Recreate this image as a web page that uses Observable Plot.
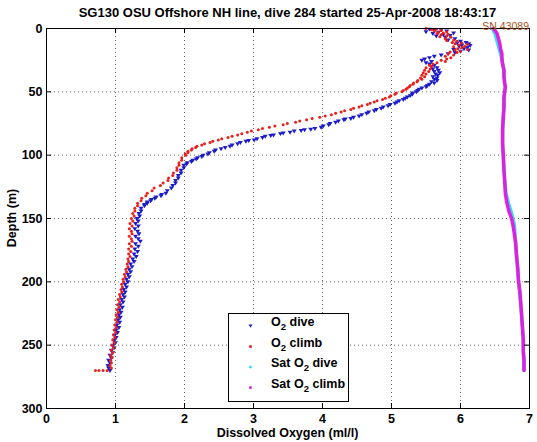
<!DOCTYPE html>
<html><head><meta charset="utf-8">
<script src="https://cdn.jsdelivr.net/npm/d3@7"></script>
<script src="https://cdn.jsdelivr.net/npm/@observablehq/plot@0.6"></script>
<style>body{margin:0;background:#fff} #chart svg{display:block}</style>
</head><body><div id="chart"></div>
<script>
const xTicks = [0,1,2,3,4,5,6,7];
const yTicks = [0,50,100,150,200,250,300];
const titleText = "SG130 OSU Offshore NH line, dive 284 started 25-Apr-2008 18:43:17";
const xLabel = "Dissolved Oxygen (ml/l)";
const yLabel = "Depth (m)";
const serialLabel = "SN 43089";
const legendNames = [["O","2"," dive"],["O","2"," climb"],["Sat O","2"," dive"],["Sat O","2"," climb"]];

// [depth (m), O2 (ml/l)]
const diveO2 = [[0.5,5.55],[1,5.72],[1.5,5.62],[2,5.8],[2.5,5.5],[3,5.68],[3.5,5.9],[4,5.6],[5,5.75],[5.5,5.85],[6,5.65],[7,5.78],[8,5.92],[9,5.82],[10,6.0],
[11,6.08],[11.5,5.95],[12,6.12],[13,6.02],[13.5,6.14],[14,5.98],[15,6.1],[16,6.05],[16.5,5.9],[17,6.12],[18,6.0],[19,5.92],[20,5.82],
[21,5.72],[22,5.62],[23,5.55],[24,5.48],[25,5.44],[26,5.58],[27,5.5],[28,5.55],[29,5.62],
[30,5.58],[31,5.66],[32,5.6],[33,5.68],[34,5.62],[35,5.7],[36,5.64],[37,5.67],[38,5.6],[39,5.66],[40,5.62],[41,5.66],[42,5.58],[43,5.62],[44,5.55],[45,5.52],[46,5.5],[47,5.44],
[48,5.4],[49,5.38],[50,5.36],[51,5.31],[52,5.3],[53,5.27],[54,5.23],[55,5.2],[56,5.17],[57,5.11],[58,5.08],[59,5.05],[60,4.98],
[61,4.95],[62,4.88],[63,4.85],[64,4.78],[65,4.75],[66,4.67],[67,4.64],[68,4.57],[69,4.53],[70,4.45],[71,4.41],[71.5,4.33],[72,4.31],[73,4.23],[74,4.19],[75,4.11],[76,4.09],[77,4.01],[78,3.98],[79,3.89],[79.5,3.83],[80,3.74],[80.5,3.69],[81,3.59],[82,3.53],[82.5,3.43],[83,3.39],[84,3.29],[84.5,3.25],[85,3.17],[86,3.13],[87,3.05],[88,3.01],[88.5,2.93],[89,2.89],[90,2.81],[91,2.77],[92,2.69],[93,2.66],[94,2.59],[95,2.53],[96,2.45],[97,2.43],[98,2.36],[99,2.34],[100,2.27],[101,2.25],[102,2.19],[103,2.17],[104,2.12],[105,2.1],[106,2.04],[107,2.03],[108,1.99],
[110,1.99],[112,1.95],[114,1.95],[116,1.91],[118,1.91],[120,1.87],[122,1.87],[124,1.83],[126,1.81],[128,1.75],[130,1.73],[131,1.67],[132,1.66],[133,1.59],[134,1.57],[135,1.52],[136,1.51],[137,1.46],[138,1.46],[139,1.42],[140,1.42],[142,1.37],[144,1.37],[146,1.34],[148,1.35],[150,1.31],[152,1.33],[154,1.29],[156,1.33],[158,1.28],[160,1.32],[162,1.34],[164,1.29],[166,1.33],[168,1.36],[170,1.29],[172,1.33],[174,1.28],[176,1.32],[178,1.27],[180,1.3],[182,1.25],[184,1.27],[186,1.22],[188,1.24],[190,1.2],[192,1.22],[194,1.18],[196,1.2],[198,1.16],[200,1.18],[202,1.14],[204,1.16],[206,1.12],[208,1.14],[210,1.11],[212,1.13],[214,1.09],[216,1.11],[218,1.07],[220,1.1],[222,1.06],[224,1.08],[226,1.05],[228,1.07],[230,1.04],[232,1.06],[234,1.02],[236,1.05],[238,1.01],[240,1.03],[242,0.99],[244,1.01],[246,0.98],[248,1.0],[250,0.96],[252,0.98],[254,0.94],[256,0.96],[258,0.92],[260,0.94],[262,0.9],[264,0.92],[266,0.89],[268,0.9],[270,0.92]];

const climbO2 = [[0,5.5],[0.5,5.65],[1,5.58],[1.5,5.72],[2,5.62],[2.5,5.8],[3,5.68],[3.5,5.75],[4,5.66],[4.5,5.82],[5,5.72],[6,5.8],[6.5,5.7],[7,5.86],[8,5.78],[9,5.9],[9.5,5.8],[10,5.95],
[11,5.88],[11.5,6.02],[12,5.92],[12.5,6.1],[13,5.98],[14,6.06],[14.5,5.9],[15,6.02],[16,5.96],[16.5,6.1],[17,5.92],[18,6.0],[18.5,5.85],[19,5.95],[20,5.82],[21,5.9],[22,5.78],[23,5.86],[24,5.8],[25,5.72],[26,5.78],[27,5.66],[28,5.6],
[29,5.55],[30,5.58],[31,5.5],[32,5.56],[33,5.48],[34,5.54],[35,5.46],[36,5.5],[37,5.44],[38,5.48],[39,5.42],[40,5.44],[41,5.38],[42,5.37],[43,5.32],[44,5.31],[45,5.27],[46,5.26],[47,5.23],[48,5.21],[49,5.17],[50,5.15],[51,5.07],[52,5.05],[53,4.99],[54,4.97],[55,4.91],[56,4.87],[57,4.79],[58,4.75],[59,4.69],[60,4.65],[61,4.57],[62,4.53],[63,4.45],[64,4.41],[65,4.32],[66,4.27],[67,4.19],[68,4.13],[69,4.04],[70,3.96],[71,3.85],[72,3.77],[73,3.67],[74,3.61],[75,3.49],[76,3.43],[77,3.31],[78,3.23],[79,3.13],[80,3.07],[81,2.97],[82,2.91],[83,2.83],[84,2.77],[85,2.69],[86,2.63],[87,2.54],[88,2.49],[89,2.41],[90,2.37],[91,2.29],[92,2.25],[93,2.18],[94,2.16],[95,2.11],[96,2.1],[97,2.05],[98,2.05],[99,2.01],[100,2.02],
[102,1.96],[104,1.96],[106,1.92],[108,1.92],[110,1.89],[112,1.89],[114,1.84],[116,1.83],[118,1.77],[120,1.76],[122,1.69],[124,1.65],[126,1.56],[128,1.53],[130,1.46],[132,1.44],[134,1.38],[136,1.37],[138,1.32],[140,1.32],[142,1.28],[144,1.28],[146,1.25],[148,1.27],[150,1.23],[152,1.25],[154,1.21],[156,1.24],[158,1.2],[160,1.23],[162,1.24],[164,1.2],[166,1.23],[168,1.24],[170,1.2],[172,1.23],[174,1.19],[176,1.22],[178,1.19],[180,1.21],[182,1.18],[184,1.19],[186,1.17],[188,1.18],[190,1.15],[192,1.16],[194,1.13],[196,1.14],[198,1.11],[200,1.12],[202,1.09],[204,1.1],[206,1.08],[208,1.09],[210,1.06],[212,1.07],[214,1.04],[216,1.06],[218,1.03],[220,1.05],[222,1.02],[224,1.04],[226,1.01],[228,1.03],[230,1.0],[232,1.02],[234,0.99],[236,1.01],[238,0.98],[240,1.0],[242,0.97],[244,0.99],[246,0.96],[248,0.98],[250,0.95],[252,0.97],[254,0.94],[256,0.96],[258,0.93],[260,0.95],[262,0.93],[264,0.94],[266,0.92],[268,0.94],[270,0.88],[270,0.82],[270,0.76],[270,0.71]];

const satDive = [[0,6.46],[4,6.5],[8,6.52],[12,6.54],[16,6.56],[20,6.58],[24,6.6],[28,6.61],[33,6.63],[38,6.63],[43,6.64],[46,6.65],[50,6.64],[55,6.63],[62,6.63],[70,6.62],[80,6.61],[91,6.61],[100,6.62],[112,6.63],[120,6.64],[130,6.66],[137,6.69],[144,6.73],[150,6.76],[155,6.78],[162,6.79],[170,6.8],[178,6.81],[190,6.83],[199,6.84],[208,6.86],[215,6.87],[222,6.88],[230,6.89],[238,6.9],[246,6.91],[255,6.91],[262,6.92],[270,6.92]];
const satClimb = [[0,6.48],[4,6.53],[8,6.55],[12,6.57],[16,6.58],[20,6.6],[24,6.6],[28,6.61],[33,6.63],[38,6.63],[43,6.64],[46,6.65],[50,6.64],[55,6.63],[62,6.63],[70,6.62],[80,6.61],[91,6.61],[100,6.62],[112,6.63],[120,6.64],[130,6.65],[137,6.67],[144,6.7],[150,6.74],[155,6.76],[162,6.78],[170,6.8],[178,6.81],[190,6.83],[199,6.84],[208,6.86],[215,6.87],[222,6.88],[230,6.89],[238,6.9],[246,6.91],[255,6.91],[262,6.92],[270,6.92]];

const colors = {dive:"#1c1cc8", climb:"#e8201c", satDive:"#30e0f0", satClimb:"#e020e0", serial:"#a8501c"};

const W=537, H=442, mL=46, mR=8, mT=28, mB=34;
const pw = W-mL-mR, ph = H-mT-mB;
const font = "'Liberation Sans', Arial, Helvetica, sans-serif";

const triDown = {draw(ctx, size){ const r = Math.sqrt(size/1.3); ctx.moveTo(-r, -r*0.6); ctx.lineTo(r, -r*0.6); ctx.lineTo(0, r*1.0); ctx.closePath(); }};

const chart = Plot.plot({
  width:W, height:H, marginLeft:mL, marginRight:mR, marginTop:mT, marginBottom:mB,
  style:{fontFamily:font, fontSize:"12px", fontWeight:"bold", color:"#000", background:"#fff"},
  x:{domain:[0,7], label:null},
  y:{domain:[0,300], reverse:true, label:null},
  marks:[
    Plot.gridX(xTicks,{stroke:"#000", strokeOpacity:0.6, strokeDasharray:"1,3"}),
    Plot.gridY(yTicks,{stroke:"#000", strokeOpacity:0.6, strokeDasharray:"1,3"}),
    Plot.line(satDive,{x:d=>d[1], y:d=>d[0], stroke:colors.satDive, strokeWidth:3.5}),
    Plot.line(satClimb,{x:d=>d[1], y:d=>d[0], stroke:colors.satClimb, strokeWidth:3.5}),
    Plot.dot(diveO2,{x:d=>d[1], y:d=>d[0], symbol:triDown, r:1.6, fill:colors.dive, stroke:null}),
    Plot.dot(climbO2,{x:d=>d[1], y:d=>d[0], r:1.5, fill:colors.climb, stroke:null}),
    Plot.frame({stroke:"#000"}),
    Plot.ruleX(xTicks,{x:d=>d, insetTop:ph-5, stroke:"#000"}),
    Plot.ruleX(xTicks,{x:d=>d, insetBottom:ph-5, stroke:"#000"}),
    Plot.ruleY(yTicks,{y:d=>d, insetRight:pw-5, stroke:"#000"}),
    Plot.ruleY(yTicks,{y:d=>d, insetLeft:pw-5, stroke:"#000"}),
    Plot.axisX({ticks:xTicks, tickFormat:d3.format("d"), tickSize:0, tickPadding:6, label:null, fontSize:12.5, fontWeight:"bold"}),
    Plot.axisY({ticks:yTicks, tickFormat:d3.format("d"), tickSize:0, tickPadding:4, label:null, fontSize:12.5, fontWeight:"bold"})
  ]
});
document.getElementById("chart").appendChild(chart);

const svg = d3.select(chart);
const txt = (x,y,s,opts={}) => svg.append("text").attr("x",x).attr("y",y)
  .attr("text-anchor",opts.anchor||"middle").attr("font-family",font)
  .attr("font-size",opts.size||12).attr("font-weight",opts.weight||"bold")
  .attr("fill",opts.fill||"#000").text(s);
txt(mL+pw/2, 17, titleText, {size:13});
txt(mL+pw/2, 437, xLabel, {size:12.5});
txt(0,0,yLabel,{size:12.5}).attr("transform",`translate(16,${mT+ph/2}) rotate(-90)`);
txt(W-8, 30, serialLabel, {anchor:"end", size:10.5, weight:"normal", fill:colors.serial});

// legend
const lg = svg.append("g");
lg.append("rect").attr("x",228.5).attr("y",313.5).attr("width",120).attr("height",88).attr("fill","#fff").attr("stroke","#000");
const legendMarks = [
  {c:colors.dive, tri:true}, {c:colors.climb}, {c:colors.satDive}, {c:colors.satClimb}
];
legendNames.forEach((nm,i)=>{
  const yy = 326 + i*20.5;
  const m = legendMarks[i];
  if (m.tri) lg.append("path").attr("d",`M${248.5},${yy-1.5}L${252.5},${yy-1.5}L${250.5},${yy+1.8}Z`).attr("fill",m.c);
  else lg.append("circle").attr("cx",250.5).attr("cy",yy).attr("r",1.5).attr("fill",m.c);
  const t = lg.append("text").attr("x",271).attr("y",yy).attr("text-anchor","start").attr("font-family",font).attr("font-size",12.5).attr("font-weight","bold");
  t.append("tspan").text(nm[0]);
  t.append("tspan").attr("dy",4).attr("font-size",9.5).text(nm[1]);
  t.append("tspan").attr("dy",-4).text(nm[2]);
});
</script></body></html>
